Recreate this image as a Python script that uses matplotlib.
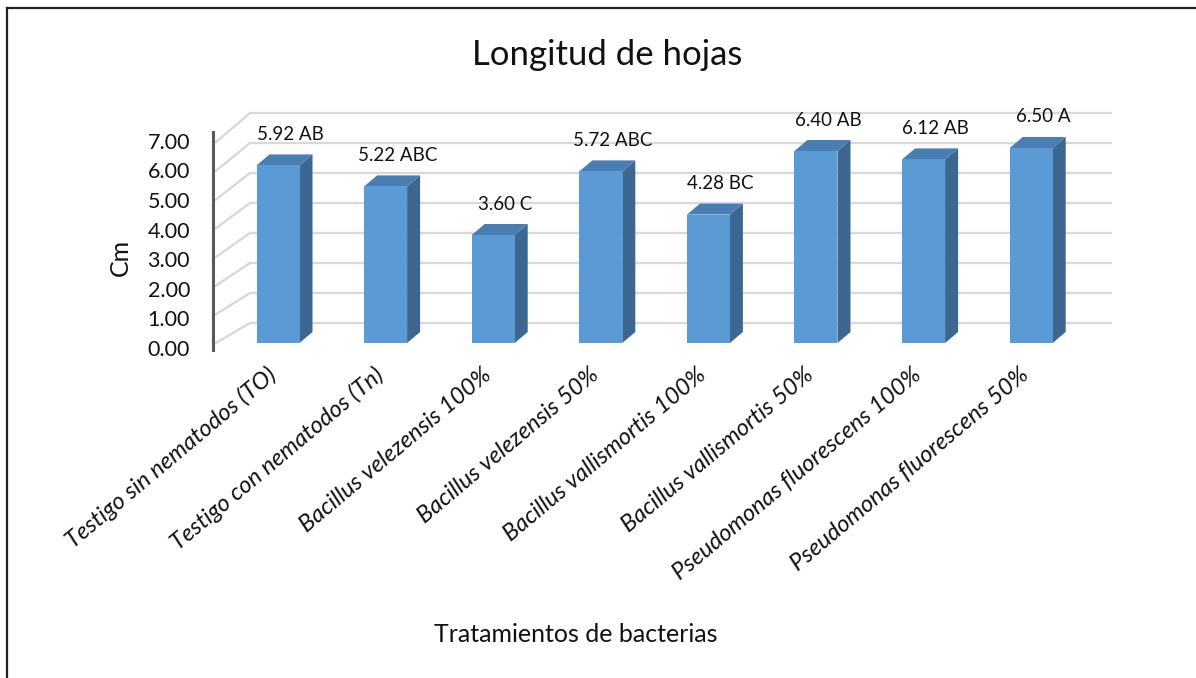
import numpy as np
import matplotlib
matplotlib.use("Agg")
import matplotlib.pyplot as plt
from matplotlib.patches import Polygon
from matplotlib.lines import Line2D

plt.rcParams['font.family'] = ['Lato', 'DejaVu Sans']

# ---- data -----------------------------------------------------------------
categories = ["Testigo sin nematodos (TO)", "Testigo con nematodos (Tn)",
              "Bacillus velezensis 100%", "Bacillus velezensis 50%",
              "Bacillus vallismortis 100%", "Bacillus vallismortis 50%",
              "Pseudomonas fluorescens 100%", "Pseudomonas fluorescens 50%"]
values = [5.92, 5.22, 3.60, 5.72, 4.28, 6.40, 6.12, 6.50]
letters = ["AB", "ABC", "C", "ABC", "BC", "AB", "AB", "A"]
yticks = [0, 1, 2, 3, 4, 5, 6, 7]

# ---- layout (pixels of the 1196x678 canvas) -------------------------------
W, H = 1196, 678
PX_CAT, PX_UNIT = 107.6, 30.0      # px per category / per value unit
X0, Y0 = 278, 343                  # centre of first bar, front floor
def dx(px): return px / PX_CAT
def dy(px): return px / PX_UNIT

FRONT, SIDE, TOP = "#5B9BD5", "#3B6791", "#4A7EB3"
GRID = "#D9D9D9"
TXT = "#111111"

fig = plt.figure(figsize=(W / 100, H / 100), dpi=100)
ax = fig.add_axes([0, 0, 1, 1])
ax.set_xlim(-X0 / PX_CAT, (W - X0) / PX_CAT)
ax.set_ylim((Y0 - H) / PX_UNIT, Y0 / PX_UNIT)
ax.axis("off")

# walls: back gridlines + left side diagonals
back_dy = dy(20)
xl_front, xl_back, xr_back = dx(216 - X0), dx(250 - X0), dx(1112 - X0)
front_scale = 28.7 / 30
for v in yticks:
    ax.plot([xl_back, xr_back], [v + back_dy, v + back_dy], color=GRID, lw=1.7,
            solid_capstyle="butt", zorder=1)
    ax.plot([xl_front, xl_back], [v * front_scale, v + back_dy], color=GRID, lw=1.7,
            zorder=1)

# vertical axis line
ax.plot([dx(213 - X0)] * 2, [dy(Y0 - 350), dy(Y0 - 132)], color="#595959", lw=2.2,
        zorder=2)

# 3D bars
hw = dx(21.5)
ddx, ddy = dx(13), dy(11)
for i, v in enumerate(values):
    side = [(i + hw, 0), (i + hw + ddx, ddy), (i + hw + ddx, v + ddy), (i + hw, v)]
    top = [(i - hw, v), (i + hw, v), (i + hw + ddx, v + ddy), (i - hw + ddx, v + ddy)]
    ax.add_patch(Polygon(side, closed=True, fc=SIDE, ec="none", zorder=3))
    ax.add_patch(Polygon(top, closed=True, fc=TOP, ec="none", zorder=3))
    ax.bar(i, v, width=2 * hw, color=FRONT, zorder=4)
    ax.text(i + dx(12), v + dy(31), f"{v:.2f} {letters[i]}", ha="center",
            va="center", fontsize=13.5, color=TXT, zorder=5)

# value tick labels
for v in yticks:
    ax.text(dx(190 - X0), dy(-7) + v * 0.987, f"{v:.2f}", ha="right", va="center",
            fontsize=15.5, color=TXT)

# category labels
for i, c in enumerate(categories):
    ax.text(i - dx(5), dy(Y0 - 372), c, rotation=40, rotation_mode="anchor",
            ha="right", va="center", fontsize=17, style="italic", color=TXT)

ax.text(dx(607 - X0), dy(Y0 - 55), "Longitud de hojas", ha="center", va="center",
        fontsize=25, color=TXT)
ax.text(dx(576 - X0), dy(Y0 - 634), "Tratamientos de bacterias", ha="center",
        va="center", fontsize=18, color=TXT)
ax.text(dx(120 - X0), dy(Y0 - 257), "Cm", ha="center", va="center", rotation=90,
        fontsize=18, color=TXT)

# chart frame (left and top edges only visible)
fig.add_artist(Line2D([7 / W, 7 / W], [0, 1 - 8 / H], color="#222222", lw=1.6))
fig.add_artist(Line2D([7 / W, 1], [1 - 8 / H, 1 - 8 / H], color="#222222", lw=1.6))

fig.savefig("out.png", dpi=100)
